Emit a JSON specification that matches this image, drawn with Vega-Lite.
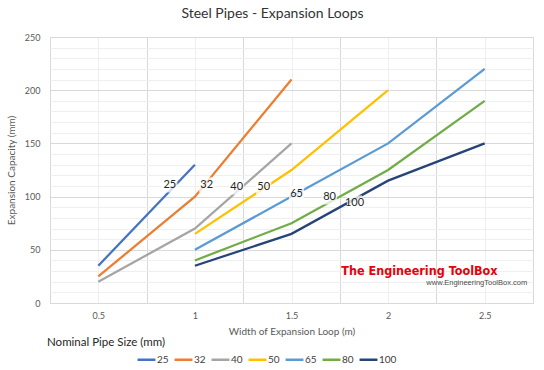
{
  "$schema": "https://vega.github.io/schema/vega-lite/v6.json",
  "autosize": "none",
  "width": 483,
  "height": 266,
  "padding": {"left": 50, "top": 37, "right": 11, "bottom": 67},
  "background": "white",
  "config": {
    "font": "Lato",
    "view": {"stroke": "#d9d9d9", "strokeWidth": 1},
    "axis": {"labelFont": "Lato", "titleFont": "Lato", "labelColor": "#595959", "titleColor": "#595959", "labelFontSize": 9, "titleFontSize": 10, "titleFontWeight": "normal", "domain": false, "ticks": false, "labelOverlap": false, "labelFlush": false}
  },
  "title": {"text": "Steel Pipes - Expansion Loops", "font": "Lato", "fontSize": 14, "fontWeight": "normal", "color": "#333333", "anchor": "middle", "dx": -19, "offset": 12},
  "datasets": {
    "pipes": [
      {"size": "25", "width": 0.5, "capacity": 35},
      {"size": "25", "width": 1, "capacity": 130},
      {"size": "32", "width": 0.5, "capacity": 25},
      {"size": "32", "width": 1, "capacity": 100},
      {"size": "32", "width": 1.5, "capacity": 210},
      {"size": "40", "width": 0.5, "capacity": 20},
      {"size": "40", "width": 1, "capacity": 70},
      {"size": "40", "width": 1.5, "capacity": 150},
      {"size": "50", "width": 1, "capacity": 65},
      {"size": "50", "width": 1.5, "capacity": 125},
      {"size": "50", "width": 2, "capacity": 200},
      {"size": "65", "width": 1, "capacity": 50},
      {"size": "65", "width": 1.5, "capacity": 100},
      {"size": "65", "width": 2, "capacity": 150},
      {"size": "65", "width": 2.5, "capacity": 220},
      {"size": "80", "width": 1, "capacity": 40},
      {"size": "80", "width": 1.5, "capacity": 75},
      {"size": "80", "width": 2, "capacity": 125},
      {"size": "80", "width": 2.5, "capacity": 190},
      {"size": "100", "width": 1, "capacity": 35},
      {"size": "100", "width": 1.5, "capacity": 65},
      {"size": "100", "width": 2, "capacity": 115},
      {"size": "100", "width": 2.5, "capacity": 150}
    ],
    "labels": [
      {"label": "25", "width": 0.87, "capacity": 111},
      {"label": "32", "width": 1.061, "capacity": 111},
      {"label": "40", "width": 1.216, "capacity": 109},
      {"label": "50", "width": 1.356, "capacity": 109},
      {"label": "65", "width": 1.526, "capacity": 102.5},
      {"label": "80", "width": 1.697, "capacity": 99.7},
      {"label": "100", "width": 1.826, "capacity": 94}
    ],
    "notes": [
      {"text": "Nominal Pipe Size (mm)", "width": 0.2345, "capacity": -38}
    ],
    "brand": [
      {"text": "The Engineering ToolBox", "width": 2.162, "capacity": 30.5}
    ],
    "url": [
      {"text": "www.EngineeringToolBox.com", "width": 2.72, "capacity": 18.5}
    ]
  },
  "encoding": {
    "x": {
      "field": "width", "type": "quantitative",
      "scale": {"domain": [0.25, 2.75], "nice": false, "zero": false},
      "axis": {
        "title": "Width of Expansion Loop (m)",
        "values": [0.25, 0.5, 0.75, 1, 1.25, 1.5, 1.75, 2, 2.25, 2.5, 2.75],
        "labelExpr": "(datum.value * 4) % 2 == 0 ? format(datum.value, '~g') : ''",
        "labelPadding": 8,
        "titlePadding": 6,
        "grid": true,
        "gridColor": {"condition": {"test": "(datum.value * 4) % 2 == 0", "value": "#efefef"}, "value": "#d9d9d9"},
        "gridWidth": 1
      }
    },
    "y": {
      "field": "capacity", "type": "quantitative",
      "scale": {"domain": [0, 250], "nice": false},
      "axis": {
        "title": "Expansion Capacity (mm)",
        "values": [0, 10, 20, 30, 40, 50, 60, 70, 80, 90, 100, 110, 120, 130, 140, 150, 160, 170, 180, 190, 200, 210, 220, 230, 240, 250],
        "labelExpr": "datum.value % 50 == 0 ? datum.label : ''",
        "labelPadding": 10,
        "titlePadding": 8,
        "grid": true,
        "gridColor": {"condition": {"test": "datum.value % 50 == 0", "value": "#d9d9d9"}, "value": "#efefef"},
        "gridWidth": 1
      }
    }
  },
  "layer": [
    {
      "data": {"name": "pipes"},
      "mark": {"type": "line", "strokeWidth": 2.25},
      "encoding": {
        "color": {
          "field": "size", "type": "nominal",
          "scale": {
            "domain": ["25", "32", "40", "50", "65", "80", "100"],
            "range": ["#4472C4", "#ED7D31", "#A5A5A5", "#FFC000", "#5B9BD5", "#70AD47", "#264478"]
          },
          "legend": {
            "title": null,
            "orient": "none",
            "direction": "horizontal",
            "legendX": 86,
            "legendY": 312,
            "symbolType": "stroke",
            "symbolSize": 320,
            "symbolStrokeWidth": 2.5,
            "labelOffset": 0,
            "labelFont": "Lato",
            "labelFontSize": 10,
            "labelColor": "#404040",
            "columnPadding": 0
          }
        }
      }
    },
    {
      "data": {"name": "labels"},
      "mark": {"type": "square", "color": "white", "opacity": 0.75, "size": 230},
      "encoding": {}
    },
    {
      "data": {"name": "labels"},
      "mark": {"type": "text", "font": "Lato", "fontSize": 11, "color": "#262626"},
      "encoding": {"text": {"field": "label"}}
    },
    {
      "data": {"name": "notes"},
      "mark": {"type": "text", "font": "Lato", "fontSize": 11.5, "color": "#262626", "align": "left"},
      "encoding": {"text": {"field": "text"}}
    },
    {
      "data": {"name": "brand"},
      "mark": {"type": "text", "font": "DejaVu Sans Condensed", "fontSize": 12.5, "fontWeight": "bold", "color": "#e8000b"},
      "encoding": {"text": {"field": "text"}}
    },
    {
      "data": {"name": "url"},
      "mark": {"type": "text", "font": "Liberation Sans", "fontSize": 7.5, "color": "#4d4d4d", "align": "right"},
      "encoding": {"text": {"field": "text"}}
    }
  ]
}
